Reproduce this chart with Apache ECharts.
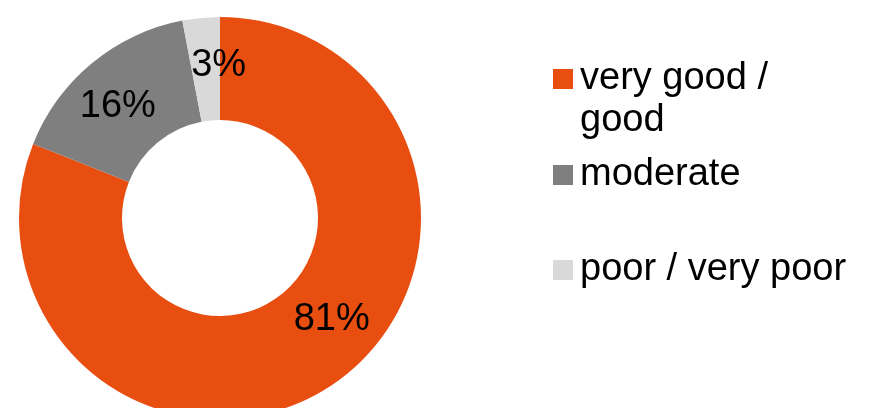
<!DOCTYPE html>
<html>
<head>
<meta charset="utf-8">
<script src="https://cdn.jsdelivr.net/npm/echarts@6/dist/echarts.min.js"></script>
<style>
html,body{margin:0;padding:0;background:#fff;}
#c{width:873px;height:408px;}
</style>
</head>
<body>
<div id="c"></div>
<script>
const categories = ['very good / good', 'moderate', 'poor / very poor'];
const values = [81, 16, 3];
const colors = ['#E84E10', '#7F7F7F', '#D9D9D9'];
const legendLabels = ['{s| }\n{a|very good /}\n{a|good}', '{a|moderate}', '{a|poor / very poor}'];

const FONT = '"Liberation Sans", Arial, sans-serif';
const labelShift = [[26, -25], [-5, 6], [13, -1]];
const legendTops = [16, 154, 249];

const chart = echarts.init(document.getElementById('c'));
const legends = categories.map((name, i) => ({
  show: true,
  left: 553,
  top: legendTops[i],
  padding: 0,
  orient: 'vertical',
  icon: 'rect',
  itemWidth: 20,
  itemHeight: 20,
  selectedMode: false,
  data: [name],
  formatter: () => legendLabels[i],
  textStyle: {
    fontFamily: FONT,
    fontSize: 38,
    color: '#000',
    lineHeight: 42,
    rich: {
      a: { fontFamily: FONT, fontSize: 38, color: '#000', lineHeight: 42, padding: [0, 0, 0, 2] },
      s: { fontFamily: FONT, fontSize: 10, lineHeight: 42 }
    }
  }
}));

chart.setOption({
  animation: false,
  color: colors,
  legend: legends,
  series: [{
    type: 'pie',
    center: [220, 218],
    radius: [98, 201],
    startAngle: 90,
    clockwise: true,
    avoidLabelOverlap: false,
    label: {
      show: true,
      position: 'inside',
      formatter: '{c}%',
      fontFamily: FONT,
      fontSize: 38,
      color: '#000'
    },
    labelLine: { show: false },
    labelLayout: function (p) {
      const s = labelShift[p.dataIndex] || [0, 0];
      return { dx: s[0], dy: s[1] };
    },
    itemStyle: { borderWidth: 0 },
    emphasis: { disabled: true },
    data: categories.map((n, i) => ({ name: n, value: values[i] }))
  }]
});
</script>
</body>
</html>
